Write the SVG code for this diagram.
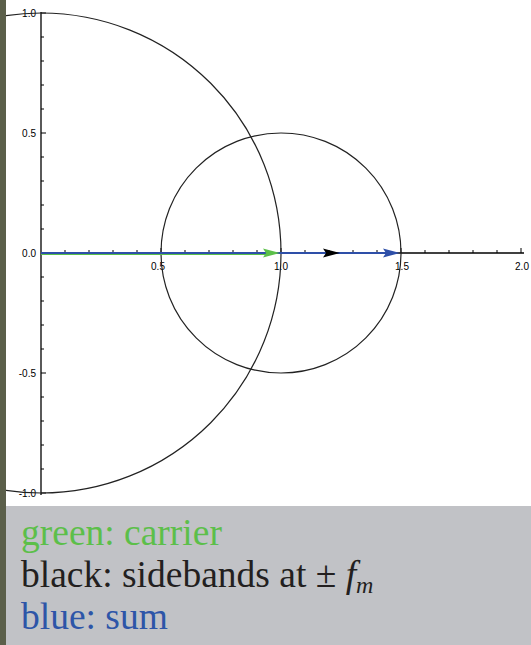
<svg xmlns="http://www.w3.org/2000/svg" width="531" height="645" viewBox="0 0 531 645">
<defs>
<style>
.ax{stroke:#000;stroke-width:1.3;fill:none}
.tk{stroke:#000;stroke-width:1;fill:none}
.cv{stroke:#222;stroke-width:1.2;fill:none}
.lbl{font-family:"Liberation Sans",Arial,sans-serif;font-size:10px;fill:#000}
.leg{font-family:"Liberation Serif","Times New Roman",serif;font-size:37.5px}
</style>
<clipPath id="pc"><rect x="6" y="0" width="525" height="506"/></clipPath>
</defs>
<rect x="0" y="0" width="531" height="645" fill="#5b5f4a"/>
<rect x="6" y="0" width="525" height="506" fill="#ffffff"/>
<rect x="6" y="506" width="525" height="139" fill="#c1c2c6"/>
<g id="plot" clip-path="url(#pc)">
<g id="axes">
<line class="ax" x1="41" y1="12" x2="41" y2="495"/>
<line class="ax" x1="41" y1="253" x2="524" y2="253"/>
<path class="tk" d="M65 253v-3M89 253v-3M113 253v-3M137 253v-3M161 253v-5M185 253v-3M209 253v-3M233 253v-3M257 253v-3M281 253v-5M305 253v-3M329 253v-3M353 253v-3M377 253v-3M401 253v-5M425 253v-3M449 253v-3M473 253v-3M497 253v-3M521 253v-5"/>
<path class="tk" d="M41 13h5M41 37h3M41 61h3M41 85h3M41 109h3M41 133h5M41 157h3M41 181h3M41 205h3M41 229h3M41 277h3M41 301h3M41 325h3M41 349h3M41 373h5M41 397h3M41 421h3M41 445h3M41 469h3M41 493h5"/>
<text class="lbl" x="36" y="17" text-anchor="end">1.0</text>
<text class="lbl" x="36" y="137" text-anchor="end">0.5</text>
<text class="lbl" x="36" y="257" text-anchor="end">0.0</text>
<text class="lbl" x="36" y="377" text-anchor="end">-0.5</text>
<text class="lbl" x="36" y="497" text-anchor="end">-1.0</text>
<text class="lbl" x="158" y="270" text-anchor="middle">0.5</text>
<text class="lbl" x="281" y="270" text-anchor="middle">1.0</text>
<text class="lbl" x="402" y="270" text-anchor="middle">1.5</text>
<text class="lbl" x="522" y="270" text-anchor="middle">2.0</text>
</g>
<g id="circles">
<circle class="cv" cx="41" cy="253" r="240"/>
<circle class="cv" cx="281" cy="253" r="120"/>
</g>
</g>
<g id="connectors">
<line x1="41" y1="254" x2="268" y2="254" stroke="#5cc04a" stroke-width="2"/>
<line x1="41" y1="253" x2="388" y2="253" stroke="#2e4fa8" stroke-width="2"/>
<polygon points="280,253 263,248.5 266,253 263,257.5" fill="#5cc04a"/>
<polygon points="340,253 323,248.5 326,253 323,257.5" fill="#000"/>
<polygon points="400,253 383,248.5 386,253 383,257.5" fill="#2e4fa8"/>
</g>
<g id="legend">
<text class="leg" x="21" y="545" fill="#5cbf4a">green: carrier</text>
<text class="leg" x="21" y="587" fill="#231f20">black: sidebands at ± <tspan font-style="italic">f</tspan><tspan font-style="italic" font-size="24" dy="6">m</tspan></text>
<text class="leg" x="21" y="629" fill="#2d55a8">blue: sum</text>
</g>
</svg>
